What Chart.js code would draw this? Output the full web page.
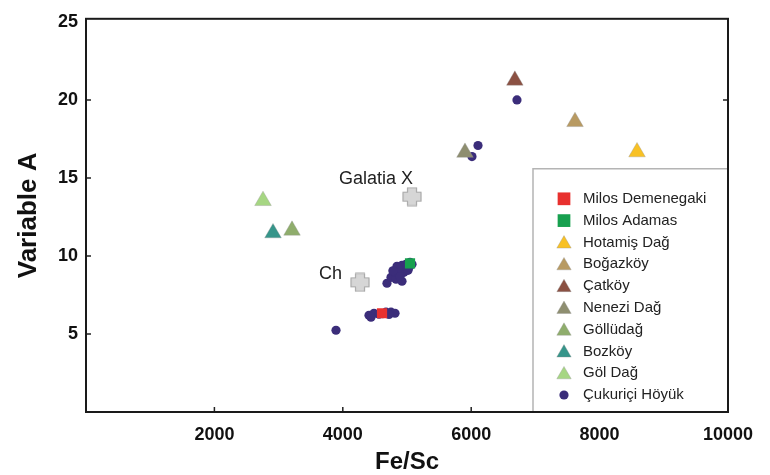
<!DOCTYPE html>
<html>
<head>
<meta charset="utf-8">
<script src="https://cdn.jsdelivr.net/npm/chart.js@4.4.1/dist/chart.umd.min.js"></script>
<style>
  html, body { margin: 0; padding: 0; background: #fff; }
</style>
</head>
<body>
<canvas id="scatterChart" width="770" height="475"></canvas>
<script>
// obsidian sources (one point each)
var sourceNames = ["Milos Demenegaki", "Milos Adamas", "Hotamiş Dağ", "Boğazköy", "Çatköy", "Nenezi Dağ", "Göllüdağ", "Bozköy", "Göl Dağ"];
var sourceFeSc = [4611, 5047, 8583, 7617, 6680, 5903, 3209, 2913, 2757];
var sourceVarA = [6.33, 9.53, 16.66, 18.6, 21.25, 16.63, 11.64, 11.47, 13.54];

// site samples
var siteName = "Çukuriçi Höyük";
var siteFeSc = [6713, 6106, 6012, 3894,
  4688, 4751, 4829, 4922, 4798, 4875, 4953, 5016, 4844, 4922, 4984, 5047, 5031, 5078, 4891, 4860, 4780,
  4408, 4486, 4564, 4673, 4751, 4813, 4439, 4620, 4720];
var siteVarA = [20.0, 17.08, 16.37, 5.24,
  8.25, 8.63, 8.51, 8.38, 8.95, 9.08, 8.95, 9.08, 9.34, 9.40, 9.47, 9.59, 9.27, 9.47, 8.70, 9.20, 9.05,
  6.20, 6.33, 6.27, 6.40, 6.40, 6.33, 6.08, 6.30, 6.25];

// labelled reference samples
var refLabels = ["Galatia X", "Ch"];
var refFeSc = [5078, 4268];
var refVarA = [13.8, 8.31];

var xTicks = [2000, 4000, 6000, 8000, 10000];
var yTicks = [5, 10, 15, 20, 25];

// styles
var sourceColors = ["#e8302e", "#17a04f", "#f8c125", "#b89a62", "#8b5143", "#8e8e70", "#8fad6c", "#36958a", "#a6d683"];
var sourceShapes = ["rect", "rect", "triangle", "triangle", "triangle", "triangle", "triangle", "triangle", "triangle"];
var siteColor = "#3b2d7a";
var FONT = "'Liberation Sans', Arial, Helvetica, sans-serif";

// grey plus-shaped marker
var crossImg = document.createElement("canvas");
crossImg.width = 20; crossImg.height = 20;
(function () {
    var c = crossImg.getContext("2d");
    var a = 5.5, b = 14.5, o = 1, e = 19;
    c.beginPath();
    c.moveTo(a, o); c.lineTo(b, o); c.lineTo(b, a); c.lineTo(e, a); c.lineTo(e, b);
    c.lineTo(b, b); c.lineTo(b, e); c.lineTo(a, e); c.lineTo(a, b); c.lineTo(o, b);
    c.lineTo(o, a); c.lineTo(a, a); c.closePath();
    c.lineJoin = "round";
    c.fillStyle = "#d6d6d6";
    c.fill();
    c.strokeStyle = "#a9a9a9";
    c.lineWidth = 1.2;
    c.stroke();
})();

var datasets = [];
sourceNames.forEach(function (name, i) {
    var isRect = sourceShapes[i] === "rect";
    datasets.push({
        label: name,
        data: [{ x: sourceFeSc[i], y: sourceVarA[i] }],
        pointStyle: sourceShapes[i],
        pointRadius: isRect ? 7.2 : 9.6,
        backgroundColor: sourceColors[i],
        borderColor: isRect ? sourceColors[i] : "rgba(150,150,150,0.5)",
        borderWidth: isRect ? 0 : 0.7
    });
});
datasets.push({
    label: siteName,
    data: siteFeSc.map(function (v, i) { return { x: v, y: siteVarA[i] }; }),
    pointStyle: "circle",
    pointRadius: 4.6,
    backgroundColor: siteColor,
    borderWidth: 0
});
datasets.push({
    label: "refs",
    data: refFeSc.map(function (v, i) { return { x: v, y: refVarA[i] }; }),
    pointStyle: crossImg,
    inLegend: false
});

var framePlugin = {
    id: "frame",
    afterDraw: function (chart) {
        var ctx = chart.ctx, a = chart.chartArea;
        var xs = chart.scales.x, ys = chart.scales.y;
        ctx.save();

        // inner ticks
        ctx.strokeStyle = "#222";
        ctx.lineWidth = 1.5;
        ctx.beginPath();
        xTicks.forEach(function (v) {
            var px = xs.getPixelForValue(v);
            if (px < a.right - 5) { ctx.moveTo(px, a.bottom); ctx.lineTo(px, a.bottom - 5); }
        });
        yTicks.forEach(function (v) {
            var py = ys.getPixelForValue(v);
            if (py > a.top + 6) {
                ctx.moveTo(a.left, py); ctx.lineTo(a.left + 5, py);
                ctx.moveTo(a.right, py); ctx.lineTo(a.right - 5, py);
            }
        });
        ctx.stroke();

        // reference labels
        ctx.fillStyle = "#222";
        ctx.font = "18px " + FONT;
        ctx.textAlign = "right";
        ctx.textBaseline = "middle";
        var gx = xs.getPixelForValue(refFeSc[0]), gy = ys.getPixelForValue(refVarA[0]);
        ctx.fillText(refLabels[0], gx + 1, gy - 18);
        var cx = xs.getPixelForValue(refFeSc[1]), cy = ys.getPixelForValue(refVarA[1]);
        ctx.fillText(refLabels[1], cx - 18, cy - 8);

        // legend box
        var lx = a.right - 195, ly = a.top + 150;
        ctx.fillStyle = "#fff";
        ctx.fillRect(lx, ly, a.right - lx, a.bottom - ly);
        ctx.strokeStyle = "#b4b4b4";
        ctx.lineWidth = 1.5;
        ctx.beginPath();
        ctx.moveTo(lx, a.bottom); ctx.lineTo(lx, ly); ctx.lineTo(a.right, ly);
        ctx.stroke();

        var items = datasets.filter(function (d) { return d.inLegend !== false; });
        items.forEach(function (d, i) {
            var iy = ly + 30 + i * 21.8;
            var r = d.pointStyle === "rect" ? 9 : (d.pointStyle === "triangle" ? 8.3 : 4.6);
            ctx.fillStyle = d.backgroundColor;
            ctx.strokeStyle = d.borderColor || d.backgroundColor;
            ctx.lineWidth = d.borderWidth || 0;
            Chart.helpers.drawPoint(ctx, { pointStyle: d.pointStyle, radius: r, rotation: 0, borderWidth: d.borderWidth || 0 }, lx + 31, iy + (d.pointStyle === "triangle" ? 1.5 : 0));
            ctx.fillStyle = "#222";
            ctx.font = "15px " + FONT;
            ctx.textAlign = "left";
            ctx.textBaseline = "middle";
            ctx.fillText(d.label, lx + 50, iy);
        });

        // plot frame
        ctx.strokeStyle = "#1a1a1a";
        ctx.lineWidth = 2;
        ctx.strokeRect(a.left, a.top, a.right - a.left, a.bottom - a.top);
        ctx.restore();
    }
};

function plainTick(v) { return String(v); }

var ctx = document.getElementById("scatterChart").getContext("2d");
new Chart(ctx, {
    type: "scatter",
    data: { datasets: datasets },
    options: {
        responsive: false,
        animation: false,
        layout: { padding: { top: 18, right: 42, left: 0, bottom: 0 } },
        plugins: {
            legend: { display: false },
            tooltip: { enabled: false }
        },
        scales: {
            x: {
                type: "linear",
                min: 0,
                max: 10000,
                afterBuildTicks: function (scale) { scale.ticks = xTicks.map(function (v) { return { value: v }; }); },
                afterFit: function (scale) { scale.height = 63; },
                grid: { display: false, drawTicks: false },
                border: { display: false },
                ticks: { color: "#111", padding: 12, maxRotation: 0, callback: plainTick, font: { family: FONT, size: 18, weight: "bold" } },
                title: { display: true, text: "Fe/Sc", color: "#111", padding: { top: 2, bottom: 0 }, font: { family: FONT, size: 24, weight: "bold", lineHeight: 1.05 } }
            },
            y: {
                type: "linear",
                min: 0,
                max: 25.2,
                afterBuildTicks: function (scale) { scale.ticks = yTicks.map(function (v) { return { value: v }; }); },
                afterFit: function (scale) { scale.width = 86; },
                grid: { display: false, drawTicks: false },
                border: { display: false },
                ticks: { color: "#111", padding: 8, callback: plainTick, font: { family: FONT, size: 18, weight: "bold" } },
                title: { display: true, text: "Variable A", color: "#111", padding: { top: 13, bottom: 0 }, font: { family: FONT, size: 26, weight: "bold" } }
            }
        }
    },
    plugins: [framePlugin]
});
</script>
</body>
</html>
